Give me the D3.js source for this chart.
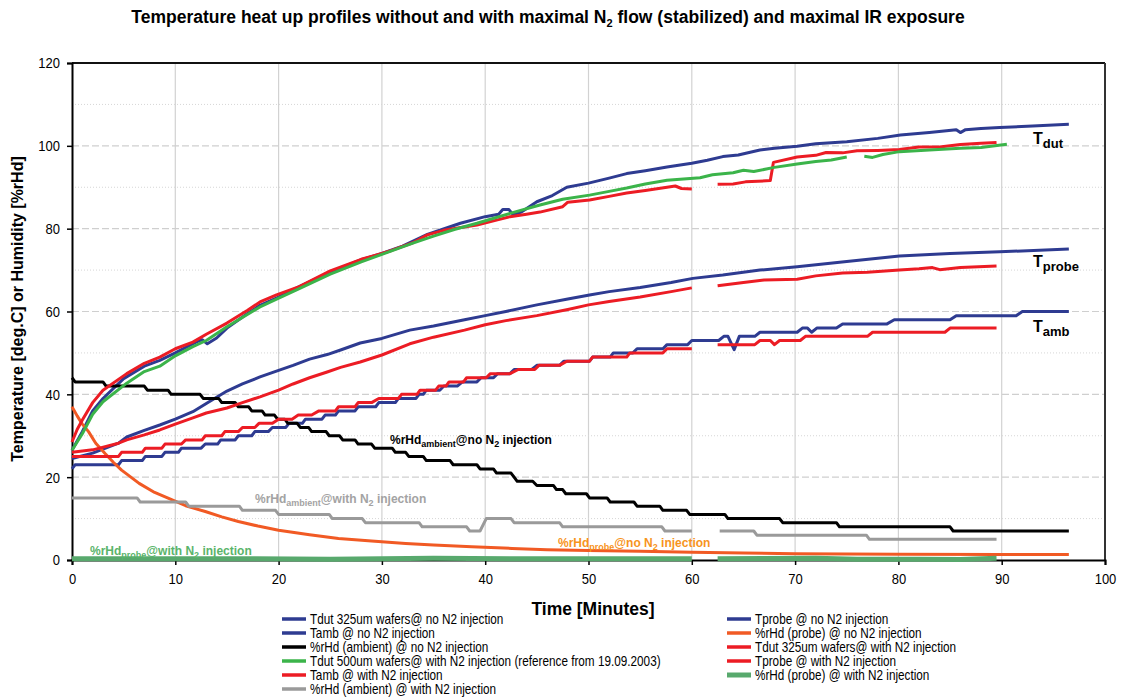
<!DOCTYPE html>
<html>
<head>
<meta charset="utf-8">
<script src="https://cdnjs.cloudflare.com/ajax/libs/d3/7.8.5/d3.min.js"></script>
<style>
  body { margin: 0; background: #fff; }
  svg { display: block; font-family: "Liberation Sans", Arial, sans-serif; }
</style>
</head>
<body>
<svg id="chart" width="1124" height="700"></svg>
<script>
// ---- measured series: [minutes, value]; null marks a gap in logging ----
const tdutNo = [[0,26.5],[1,31],[2,36],[3,39],[5,43.8],[7,46.8],[8.5,48.2],[10,50],[12,52.6],[12.6,53.2],[13.1,52.2],[14,53.6],[15,56],[17,59.5],[18.2,61.5],[20,63.5],[22,66],[25,69.5],[28,72.5],[30,74],[32,75.8],[34.4,78.6],[37.6,81.3],[40,82.9],[41.3,83.5],[41.7,84.6],[42.3,84.6],[42.7,83.4],[43.5,84],[45,86.5],[46.5,88],[47.9,90],[50,91],[52,92.2],[53.7,93.3],[55.5,94],[57.6,94.9],[60,95.8],[61.5,96.5],[63,97.4],[64.5,97.8],[66.6,99],[68,99.4],[70.2,99.9],[72,100.5],[75,101],[78,101.8],[80.2,102.6],[83,103.2],[85.6,103.9],[86,103.2],[86.5,103.9],[88,104.2],[89.8,104.4],[93,104.8],[96.5,105.2]];

const tdut325With = [[0,28.5],[0.5,31.5],[1,33.8],[2,38],[3,41],[5.3,45],[7,47.5],[8.5,49],[10,51],[11.7,52.6],[13,54.5],[15,57.2],[17,60.3],[18.2,62.3],[19.8,64],[22,66],[25,69.8],[28,72.6],[30,74],[31,74.8],[33,76.6],[34.4,78.5],[36,79.6],[37.5,80.2],[39.2,80.9],[41,82],[42.4,82.9],[44,83.5],[45.3,84],[47.5,85.3],[48,86.4],[50.1,86.9],[52,87.8],[53.7,88.6],[55.5,89.2],[57.6,90],[58.4,90.3],[59,89.7],[60,89.6],null,[62.5,90.7],[64,90.8],[65.2,91.3],[67.6,91.6],[67.9,96],[70.2,97.3],[72,97.7],[73,98.4],[74.6,98.3],[76,98.8],[78,98.9],[80.1,99.1],[82,99.7],[84,99.7],[86,100.3],[88,100.6],[89.5,100.8]];

const tdut500With = [[0,26.5],[1,30.5],[2,35.2],[3,38.2],[5.3,42.7],[7,45.5],[8.5,46.8],[10,49.3],[11.7,51.5],[13,53],[15,56.3],[18.2,61.1],[19.8,63],[22,65.5],[25,69],[28,72],[30,73.8],[33,76.5],[35,78.2],[37,79.8],[39.2,81.3],[42.4,83.7],[45.3,85.7],[47.5,87.1],[50.1,88.1],[52,89],[53.7,89.8],[55.5,90.8],[57.6,91.7],[60.8,92.3],[62,93],[64,93.5],[65,94.1],[66,93.8],[68,94.8],[70.2,95.6],[72,96.2],[73.5,96.6],[75,97.3],null,[76.7,97.5],[77.5,97.2],[78.5,97.9],[80.1,98.6],[83,99],[86,99.4],[88,99.6],[90.5,100.4]];

const tprobeNo = [[0,24.5],[2,25.8],[4.5,28.2],[5.3,29.7],[7,31.3],[8.5,32.6],[10,34],[11.7,35.8],[13,37.8],[15,40.8],[16.5,42.5],[18.2,44.2],[20,45.8],[21.4,47],[23,48.5],[24.7,49.6],[26,50.7],[27.9,52.4],[30,53.5],[32.7,55.5],[35,56.5],[38,58],[40,59],[42,60],[45,61.6],[48,63],[50.1,64],[52,64.8],[55,65.8],[58,67],[60.1,68],[63,68.8],[66.6,70],[70.2,70.8],[75,72.1],[80.1,73.4],[85,74],[89.8,74.4],[96.5,75.1]];

const tprobeWith = [[0,26],[2,26.6],[4.5,28.2],[5.3,29],[7,30.2],[8.5,31.4],[10,32.8],[11.7,34.3],[13,35.5],[15,36.7],[16.5,38],[18.2,39.4],[20,41],[21.4,42.5],[23,44],[24.7,45.4],[26,46.5],[27.9,47.8],[30,49.5],[32.7,52.2],[35,53.8],[38,55.5],[40,56.8],[42,57.8],[45,59],[48,60.5],[50,61.6],[52,62.4],[55,63.5],[58,64.8],[60,65.7],null,[62.5,66.2],[65,67],[67,67.6],[70.2,67.8],[72,68.6],[74.6,69.3],[77,69.5],[80.1,70],[82,70.3],[83.3,70.6],[84,70.1],[86,70.6],[89.5,71]];

const rhProbeNo = [[0,37],[0.5,34.8],[1,32.8],[1.6,31],[2.3,28.2],[3.2,25.7],[4,23.6],[4.8,21.7],[6.5,18.5],[8,16.3],[9.7,14.5],[11,13.1],[12.9,11.7],[14.5,10.4],[16.1,9.3],[18,8.2],[20,7.2],[23,6.1],[25.8,5.2],[29,4.6],[32.3,4],[35,3.6],[38.7,3.2],[42.6,2.8],[46,2.5],[50,2.3],[55,2.1],[60,1.9],[65,1.7],[70,1.5],[80,1.4],[90,1.3],[96.5,1.3]];

const rhProbeWith = [[0,0.3],[15,0.3],[25,0.2],[35,0.4],[45,0.3],[60,0.3],null,[62.5,0.3],[72,0.4],[76,0.2],[82,0.2],[86,0.1],[89.5,0.4]];

// ---- stepped series (sensor resolution 1 unit): [from, to, value] ----
const tambNo = [[0,0,22],[0.3,4.5,23],[4.8,6.8,24],[7.1,8.7,25],[9,10.3,26],[10.6,12.5,27],[12.9,14.1,28],[14.4,15.8,29],[16.1,17.4,30],[17.7,19,31],[19.4,20.7,32],[21,22.3,33],[22.6,24.2,34],[24.5,25.5,35],[25.8,27.4,36],[27.7,29.4,37],[29.7,31.3,38],[31.6,33.3,39],[33.6,34,40],[34.3,35.6,41],[36,37.3,42],[37.8,39.2,43],[39.6,40.8,44],[41.2,42.4,45],[42.8,44.5,46],[45,47.2,47],[47.6,50.1,48],[50.4,52.1,49],[52.4,54.3,50],[54.7,57.2,51],[57.6,59.6,52],[60,62.6,53],[63.1,63.5,54],[64.1,64.1,50.8],[64.6,66.1,54],[66.6,70.2,55],[70.7,71.2,56],[71.6,71.6,55],[72.1,74,56],[74.6,78.9,57],[79.6,85,58],[85.6,91.4,59],[92,96.5,60]];

const tambWith = [[0,4.5,25],[4.8,6.8,26],[7.1,8.7,27],[9,10.6,28],[11,12.6,29],[12.9,14.5,30],[14.8,16.1,31],[16.5,17.7,32],[18.1,19.4,33],[20,21.3,34],[21.9,23.2,35],[23.9,25.5,36],[25.8,27.4,37],[27.7,29,38],[29.7,31.6,39],[31.9,33.4,40],[33.7,35.2,41],[35.5,36.2,42],[36.5,37.9,43],[38.2,40.1,44],[40.5,42.4,45],[43.2,44.8,46],[45.2,47.2,47],[47.9,50.1,48],[50.4,53.7,49],[54,57.2,50],[57.6,60,51],null,[62.5,66.1,52],[66.6,67.6,53],[68,68,52],[68.5,70.5,53],[71,77,54],[77.5,84.5,55],[85,89.5,56]];

const rhAmbNo = [[0,0,44],[0.3,3,43],[3.3,7,42],[7.3,9.3,41],[9.6,12.4,40],[12.7,14.2,39],[14.5,15.8,38],[16.1,17.1,37],[17.4,18.4,36],[18.7,19.6,35],[19.9,20.6,34],[20.9,21.8,33],[22.1,22.9,32],[23.2,24.6,31],[24.9,25.9,30],[26.2,27.4,29],[27.7,29,28],[29.3,31,27],[31.3,32.3,26],[32.6,34,25],[34.3,36.6,24],[36.9,39.2,23],[39.5,40.8,22],[41.1,42.5,21],[42.8,42.8,20],[43.1,44.6,19],[45,46.6,18],[46.9,47.5,17],[47.8,49.8,16],[50.1,51.8,15],[52.1,54.4,14],[54.7,56.9,13],[57.2,59.5,12],[59.8,63.2,11],[63.5,68.5,10],[68.8,74,9],[74.3,85,8],[85.3,96.5,7]];

const rhAmbWith = [[0,6.3,15],[6.6,11,14],[11.3,16.2,13],[16.5,19.7,12],[20,24.9,11],[25.2,28.1,10],[28.4,33.6,9],[33.9,38.2,8],[38.5,39.5,7],[40.1,42.5,10],[42.8,47.2,9],[47.5,57.1,8],[57.4,60,7],null,[62.7,66,7],[66.3,76.9,6],[77.2,89.5,5]];

// ---- axes ----
const xTicks = [0,10,20,30,40,50,60,70,80,90,100];
const yTicks = [0,20,40,60,80,100,120];
const yMinor = [10,30,50,70,90,110];

// ---- legend entries, in legend order (row by row, two columns) ----
const legendNames = [
  "Tdut 325um wafers@ no N2 injection",
  "Tprobe @ no N2 injection",
  "Tamb @ no N2 injection",
  "%rHd (probe) @ no N2 injection",
  "%rHd (ambient) @ no N2 injection",
  "Tdut 325um wafers@ with N2 injection",
  "Tdut 500um wafers@ with N2 injection (reference from 19.09.2003)",
  "Tprobe @ with N2 injection",
  "Tamb @ with N2 injection",
  "%rHd (probe) @ with N2 injection",
  "%rHd (ambient) @ with N2 injection"
];

function expandSteps(steps) {
  const pts = [];
  steps.forEach(s => {
    if (s === null) { pts.push(null); return; }
    pts.push([s[0], s[2]]);
    if (s[1] !== s[0]) pts.push([s[1], s[2]]);
  });
  return pts;
}

const BLUE = "#2e3b91", RED = "#ec1c24", GREEN = "#3bb44a", ORANGE = "#f15a24",
      GRAY = "#9a9a9a", BLACK = "#000000", GREEN2 = "#58a96d";

const series = [
  { data: tdutNo, color: BLUE, w: 3 },
  { data: tprobeNo, color: BLUE, w: 3 },
  { data: expandSteps(tambNo), color: BLUE, w: 3 },
  { data: rhProbeNo, color: ORANGE, w: 3 },
  { data: expandSteps(rhAmbNo), color: BLACK, w: 3 },
  { data: tdut325With, color: RED, w: 3 },
  { data: tdut500With, color: GREEN, w: 3 },
  { data: tprobeWith, color: RED, w: 3 },
  { data: expandSteps(tambWith), color: RED, w: 3 },
  { data: rhProbeWith, color: GREEN2, w: 5 },
  { data: expandSteps(rhAmbWith), color: GRAY, w: 3 }
];
series.forEach((s, i) => s.name = legendNames[i]);

const svg = d3.select("#chart");
const L = 72, R = 1105, T = 63, B = 560;
const x = d3.scaleLinear().domain([0, 100]).range([L, R]);
const y = d3.scaleLinear().domain([0, 120]).range([B, T]);
const NARROW = 0.84;   // horizontal squeeze for the condensed labels

// bold text with subscript runs
function rich(parent, px, py, parts, o) {
  const t = parent.append("text").attr("x", px).attr("y", py)
    .attr("font-weight", "bold").attr("font-size", o.size).attr("fill", o.color)
    .attr("text-anchor", o.anchor || "start");
  let shift = 0;
  parts.forEach(p => {
    const target = p.sub ? o.subShift : 0;
    const sp = t.append("tspan").text(p.t).attr("dy", target - shift);
    if (p.sub) sp.attr("font-size", o.subSize);
    shift = target;
  });
  return t;
}

rich(svg, 548, 23, [
  { t: "Temperature heat up profiles without and with maximal N" },
  { t: "2", sub: true },
  { t: " flow (stabilized) and maximal IR exposure" }
], { size: 17.5, subSize: 11, subShift: 4, color: "#000", anchor: "middle" });

// grid
const grid = svg.append("g");
grid.selectAll(".vg").data(xTicks.filter(d => d > 0 && d < 100)).join("line")
  .attr("x1", d => x(d)).attr("x2", d => x(d)).attr("y1", T).attr("y2", B)
  .attr("stroke", "#d2d2d2").attr("stroke-width", 1.2);
grid.selectAll(".hg").data(yTicks.filter(d => d > 0 && d < 120)).join("line")
  .attr("x1", L).attr("x2", R).attr("y1", d => y(d)).attr("y2", d => y(d))
  .attr("stroke", "#cfcfcf").attr("stroke-width", 1.2).attr("stroke-dasharray", "7,3");
grid.selectAll(".hm").data(yMinor).join("line")
  .attr("x1", L).attr("x2", R).attr("y1", d => y(d)).attr("y2", d => y(d))
  .attr("stroke", "#d6d6d6").attr("stroke-width", 1).attr("stroke-dasharray", "1,2");

// frame (top and right)
svg.append("line").attr("x1", L).attr("x2", R).attr("y1", T).attr("y2", T)
  .attr("stroke", "#111").attr("stroke-width", 2);
svg.append("line").attr("x1", R).attr("x2", R).attr("y1", T).attr("y2", B)
  .attr("stroke", "#333").attr("stroke-width", 2);

// axes
const xAxis = svg.append("g").attr("transform", `translate(0,${B})`)
  .call(d3.axisBottom(x).tickValues(xTicks).tickSize(5).tickPadding(8));
const yAxis = svg.append("g").attr("transform", `translate(${L},0)`)
  .call(d3.axisLeft(y).tickValues(yTicks).tickSize(5).tickPadding(7));
[xAxis, yAxis].forEach(a => {
  a.select(".domain").attr("stroke", "#000").attr("stroke-width", 2);
  a.selectAll(".tick line").attr("stroke", "#000").attr("stroke-width", 1.5);
  a.selectAll(".tick text").attr("font-size", 15.5).attr("fill", "#000")
    .each(function () {
      const t = d3.select(this);
      const tx = +t.attr("x") || 0;
      t.attr("x", 0).attr("transform", `translate(${tx},0) scale(${NARROW},1)`);
    });
});

// series
const line = d3.line().defined(d => d !== null).x(d => x(d[0])).y(d => y(d[1]));
const plot = svg.append("g");
plot.selectAll("path").data(series).join("path")
  .attr("d", d => line(d.data))
  .attr("fill", "none").attr("stroke", d => d.color).attr("stroke-width", d => d.w)
  .attr("stroke-linejoin", "round");

// axis titles
svg.append("text").attr("x", 593).attr("y", 615).attr("text-anchor", "middle")
  .attr("font-weight", "bold").attr("font-size", 17.5).text("Time [Minutes]");
svg.append("text").attr("transform", "translate(23,309) rotate(-90)").attr("text-anchor", "middle")
  .attr("font-weight", "bold").attr("font-size", 16).text("Temperature [deg.C] or Humidity [%rHd]");

// legend
const leg = svg.append("g");
series.forEach((s, i) => {
  const col = i % 2, row = Math.floor(i / 2);
  const lx = col === 0 ? 282 : 727, ly = 619 + row * 14;
  leg.append("line").attr("x1", lx).attr("x2", lx + 24).attr("y1", ly).attr("y2", ly)
    .attr("stroke", s.color).attr("stroke-width", s.w === 5 ? 5 : 3.5);
  leg.append("text").attr("transform", `translate(${lx + 28},${ly + 5}) scale(${NARROW},1)`)
    .attr("font-size", 14).text(s.name);
});

// curve annotations
const ann = svg.append("g");
rich(ann, 1033, 144, [{ t: "T" }, { t: "dut", sub: true }], { size: 16, subSize: 13, subShift: 4, color: "#000" });
rich(ann, 1033, 267, [{ t: "T" }, { t: "probe", sub: true }], { size: 16, subSize: 13, subShift: 4, color: "#000" });
rich(ann, 1033, 332, [{ t: "T" }, { t: "amb", sub: true }], { size: 16, subSize: 13, subShift: 4, color: "#000" });

const lab = { size: 12, subSize: 9, subShift: 3 };
rich(ann, 390, 444, [{ t: "%rHd" }, { t: "ambient", sub: true }, { t: "@no N" }, { t: "2", sub: true }, { t: " injection" }],
  Object.assign({ color: "#000" }, lab));
rich(ann, 255, 503, [{ t: "%rHd" }, { t: "ambient", sub: true }, { t: "@with N" }, { t: "2", sub: true }, { t: " injection" }],
  Object.assign({ color: "#a3a3a3" }, lab));
rich(ann, 558, 547, [{ t: "%rHd" }, { t: "probe", sub: true }, { t: "@no N" }, { t: "2", sub: true }, { t: " injection" }],
  Object.assign({ color: "#f7941d" }, lab));
rich(ann, 90, 555, [{ t: "%rHd" }, { t: "probe", sub: true }, { t: "@with N" }, { t: "2", sub: true }, { t: " injection" }],
  Object.assign({ color: "#5ab46a" }, lab));
</script>
</body>
</html>
